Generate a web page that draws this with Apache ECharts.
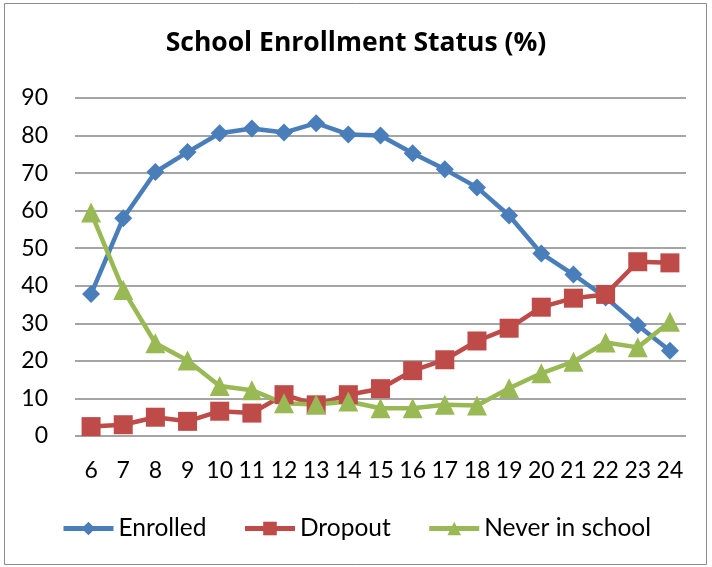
<!DOCTYPE html>
<html>
<head>
<meta charset="utf-8">
<script src="https://cdn.jsdelivr.net/npm/echarts@6/dist/echarts.min.js"></script>
<style>
  html, body { margin: 0; padding: 0; background: #fff; }
  #chart { width: 712px; height: 567px; }
</style>
</head>
<body>
<div id="chart"></div>
<script>
const ages = ['6', '7', '8', '9', '10', '11', '12', '13', '14', '15', '16', '17', '18', '19', '20', '21', '22', '23', '24']
const enrolled = [37.8, 58, 70.3, 75.6, 80.6, 81.9, 80.8, 83.3, 80.3, 80, 75.3, 71, 66.2, 58.7, 48.6, 43, 36.9, 29.5, 22.7]
const dropout = [2.5, 3, 5, 3.9, 6.6, 6.1, 11, 8.3, 11, 12.6, 17.4, 20.3, 25.3, 28.7, 34.3, 36.7, 37.7, 46.4, 46.1]
const neverInSchool = [59.5, 38.9, 24.7, 20.1, 13.3, 12.2, 8.7, 8.4, 9.2, 7.4, 7.4, 8.3, 8.1, 12.7, 16.7, 19.8, 24.9, 23.6, 30.4]

const font = 'Lato, "Open Sans", sans-serif'
const chart = echarts.init(document.getElementById('chart'))

function lineSeries(name, data, color, symbol, size) {
  return {
    name,
    type: 'line',
    data,
    symbol,
    symbolSize: size,
    lineStyle: { width: 4.5, color },
    itemStyle: { color },
    emphasis: { disabled: true }
  }
}

chart.setOption({
  animation: false,
  graphic: [{
    type: 'rect',
    shape: { x: 4.5, y: 3.5, width: 702, height: 561 },
    style: { fill: 'none', stroke: '#8c8c8c', lineWidth: 1 },
    silent: true
  }],
  title: {
    text: 'School Enrollment Status (%)',
    left: 'center',
    top: 25,
    textStyle: { fontFamily: '"Open Sans", sans-serif', fontSize: 26.5, fontWeight: 'bold', color: '#000' }
  },
  grid: { left: 75, right: 26, top: 98, bottom: 131 },
  legend: {
    top: 511,
    left: 'center',
    itemWidth: 50,
    itemHeight: 17,
    itemGap: 36,
    lineStyle: { width: 5 },
    textStyle: { fontFamily: font, fontSize: 24.5, color: '#000' },
    data: ['Enrolled', 'Dropout', 'Never in school']
  },
  xAxis: {
    type: 'category',
    data: ages,
    boundaryGap: true,
    axisLine: { show: false },
    axisTick: { show: false },
    axisLabel: { fontFamily: font, fontSize: 23, color: '#000', margin: 23, interval: 0 }
  },
  yAxis: {
    type: 'value',
    min: 0,
    max: 90,
    interval: 10,
    axisLine: { show: false },
    axisTick: { show: false },
    axisLabel: { fontFamily: font, fontSize: 23, color: '#000', margin: 27 },
    splitLine: { lineStyle: { color: '#878787', width: 1.5 } }
  },
  series: [
    lineSeries('Enrolled', enrolled, '#4a7ebb', 'diamond', 18),
    lineSeries('Dropout', dropout, '#be4b48', 'rect', 19),
    lineSeries('Never in school', neverInSchool, '#98b954', 'triangle', 20)
  ]
})
</script>
</body>
</html>
